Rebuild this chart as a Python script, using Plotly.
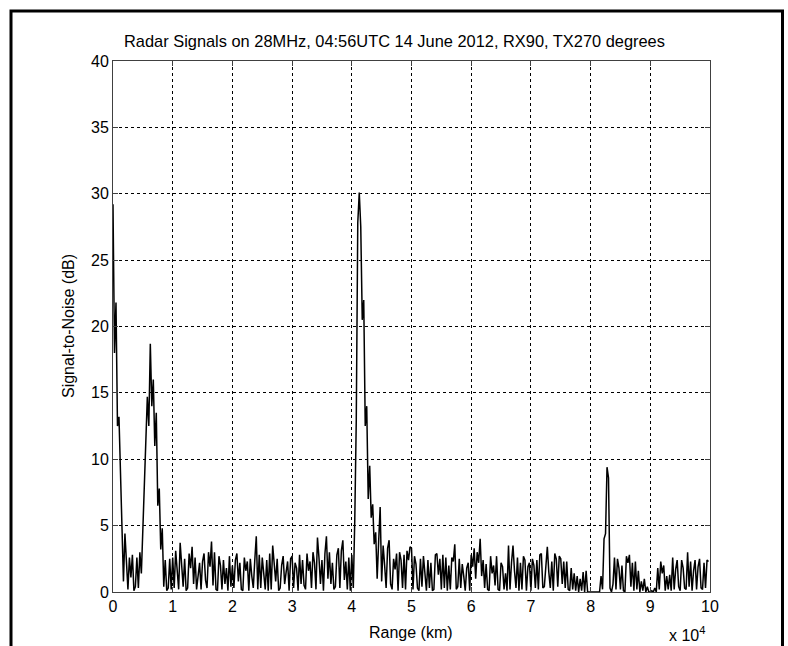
import numpy as np
import plotly.graph_objects as go

# Range samples every 250 km (0 .. 99750 km)
step_km = 250
snr_db = [
    # 0 - 10000 km
    29.2, 18.0, 21.8, 12.5, 13.2, 8.5, 5.2, 0.8, 4.4, 2.0, 0.2, 2.6, 1.1, 2.8, 0.1, 0.4, 2.6, 0.3, 3.0, 1.4,
    4.8, 8.0, 11.2, 14.7, 12.5, 18.7, 14.0, 16.0, 11.0, 13.5, 6.5, 7.8, 3.2, 4.8, 0.4, 2.4, 0.1, 0.3, 2.5, 0.2,
    # 10000 - 20000
    2.6, 0.3, 3.1, 1.5, 0.2, 3.7, 2.2, 0.4, 2.5, 0.1, 0.3, 2.9, 1.8, 3.4, 0.6, 2.6, 0.2, 1.3, 2.2, 0.2,
    2.3, 2.9, 0.9, 0.3, 3.0, 1.9, 3.8, 0.5, 3.0, 0.2, 0.1, 2.7, 2.0, 0.2, 2.4, 0.6, 1.8, 0.1, 2.7, 0.4,
    # 20000 - 30000
    2.0, 0.3, 2.4, 2.9, 0.8, 2.2, 0.2, 0.1, 2.6, 1.6, 2.3, 0.1, 2.5, 1.2, 0.3, 2.4, 4.2, 0.2, 2.8, 0.3,
    2.6, 1.4, 0.2, 2.4, 0.1, 2.9, 0.2, 3.5, 2.1, 0.8, 2.5, 0.1, 0.3, 2.0, 2.7, 0.6, 1.5, 2.3, 0.1, 2.5,
    # 30000 - 40000
    2.7, 0.3, 2.2, 1.8, 0.1, 2.8, 0.6, 2.4, 0.5, 0.2, 2.9, 1.6, 2.3, 0.3, 3.0, 2.2, 0.2, 4.1, 2.6, 0.6,
    2.4, 0.1, 2.9, 4.2, 1.0, 3.0, 0.6, 2.2, 0.2, 0.4, 2.8, 3.3, 0.3, 3.1, 3.9, 0.9, 2.3, 0.2, 2.6, 0.1,
    # 40000 - 50000
    2.8, 0.3, 5.5, 13.0, 27.8, 30.1, 27.5, 20.5, 22.0, 12.5, 14.0, 7.0, 9.5, 5.6, 6.6, 3.6, 4.5, 1.0, 3.8, 6.4,
    0.8, 3.5, 2.0, 0.3, 3.3, 3.9, 0.6, 0.2, 2.5, 1.7, 2.9, 0.1, 3.0, 2.4, 0.3, 2.8, 0.2, 3.1, 2.4, 3.4,
    # 50000 - 60000
    3.3, 0.2, 2.7, 2.1, 0.3, 0.1, 2.5, 0.4, 2.7, 1.5, 0.1, 2.4, 0.3, 2.2, 0.1, 0.2, 2.8, 2.9, 1.3, 2.5,
    0.2, 2.8, 0.3, 2.6, 0.1, 2.0, 0.2, 2.6, 2.3, 3.6, 0.2, 0.4, 2.5, 0.3, 2.1, 1.2, 0.1, 1.8, 2.2, 0.1,
    # 60000 - 70000
    2.8, 1.9, 3.3, 1.0, 3.0, 2.2, 4.0, 1.2, 2.4, 0.3, 2.1, 0.2, 0.1, 2.7, 1.4, 2.0, 0.5, 2.7, 0.2, 0.1,
    2.2, 1.9, 0.2, 1.4, 0.1, 3.5, 0.2, 2.2, 3.5, 1.6, 0.3, 2.6, 0.1, 2.2, 0.2, 2.7, 2.4, 0.1, 1.9, 2.2,
    # 70000 - 80000
    0.1, 2.5, 2.0, 0.3, 2.4, 0.2, 2.8, 2.9, 0.3, 0.4, 2.2, 3.4, 1.5, 0.3, 2.3, 0.1, 2.9, 2.5, 0.4, 2.7,
    2.5, 0.6, 2.3, 0.3, 2.3, 0.2, 0.1, 1.8, 0.2, 1.4, 0.1, 1.2, 0.0, 1.0, 0.1, 1.5, 0.0, 1.6, 0.0, 0.0,
    # 80000 - 90000
    0.0, 0.0, 0.0, 0.0, 0.0, 0.0, 0.0, 1.2, 0.2, 4.0, 4.4, 9.4, 8.6, 0.3, 0.0, 0.6, 2.6, 0.2, 2.5, 1.8,
    0.2, 2.0, 0.1, 0.0, 2.7, 2.2, 2.8, 0.4, 2.2, 0.1, 2.3, 0.2, 1.6, 0.0, 0.8, 0.1, 1.0, 0.0, 0.4, 0.0,
    # 90000 - 100000
    0.0, 0.1, 0.0, 0.3, 0.0, 1.8, 0.2, 2.3, 1.4, 2.0, 0.1, 1.2, 0.2, 1.3, 0.1, 2.6, 0.2, 1.7, 2.4, 0.4,
    0.1, 2.4, 1.8, 0.3, 0.2, 3.0, 0.4, 2.3, 0.1, 1.6, 2.4, 0.2, 1.9, 2.5, 0.3, 0.2, 2.2, 0.3, 2.4, 2.3,
]
range_km = np.arange(len(snr_db)) * step_km

x_tick_vals = [0, 10000, 20000, 30000, 40000, 50000, 60000, 70000, 80000, 90000, 100000]
x_tick_text = ["0", "1", "2", "3", "4", "5", "6", "7", "8", "9", "10"]
y_tick_vals = [0, 5, 10, 15, 20, 25, 30, 35, 40]

title_text = "Radar Signals on 28MHz, 04:56UTC 14 June 2012, RX90, TX270 degrees"
x_title = "Range (km)"
y_title = "Signal-to-Noise (dB)"

W, H = 788, 646
L, R, T, B = 113, 710, 61, 592
pw, ph = R - L, B - T


def px(x):
    return (x - L) / pw


def py(y):
    return (B - y) / ph


FONT = "Liberation Sans, Arial, sans-serif"

fig = go.Figure()
fig.add_trace(go.Scatter(x=range_km, y=snr_db, mode="lines",
                         line=dict(color="black", width=1.5), showlegend=False,
                         hoverinfo="skip"))

axis_common = dict(showline=True, linecolor="#404040", linewidth=1, mirror="ticks",
                   ticks="inside", ticklen=5, tickcolor="#404040",
                   showgrid=True, gridcolor="black", gridwidth=1, griddash="3px,3px",
                   zeroline=False, tickfont=dict(family=FONT, size=16, color="black"))

fig.update_xaxes(range=[0, 100000], tickvals=x_tick_vals, ticktext=x_tick_text, **axis_common)
fig.update_yaxes(range=[0, 40], tickvals=y_tick_vals, **axis_common)

fig.update_layout(
    width=W, height=H, margin=dict(l=L, r=W - R, t=T, b=H - B),
    paper_bgcolor="white", plot_bgcolor="white",
    font=dict(family=FONT, size=16, color="black"),
)

# outer frame
fig.add_shape(type="rect", xref="paper", yref="paper",
              x0=px(11), x1=px(782.5), y0=py(680), y1=py(11),
              line=dict(color="black", width=3), fillcolor="rgba(0,0,0,0)", layer="above")

fig.add_annotation(text=title_text, xref="paper", yref="paper", x=px(394), y=py(41),
                   showarrow=False, font=dict(family=FONT, size=16.4), xanchor="center", yanchor="middle")
fig.add_annotation(text=x_title, xref="paper", yref="paper", x=px(411), y=py(632),
                   showarrow=False, font=dict(family=FONT, size=16), xanchor="center", yanchor="middle")
fig.add_annotation(text=y_title, xref="paper", yref="paper", x=px(68), y=py(326),
                   showarrow=False, textangle=-90, font=dict(family=FONT, size=16),
                   xanchor="center", yanchor="middle")
fig.add_annotation(text="x 10<sup>4</sup>", xref="paper", yref="paper", x=px(667), y=py(634),
                   showarrow=False, font=dict(family=FONT, size=16), xanchor="left", yanchor="middle")

fig.write_html("out.html")
